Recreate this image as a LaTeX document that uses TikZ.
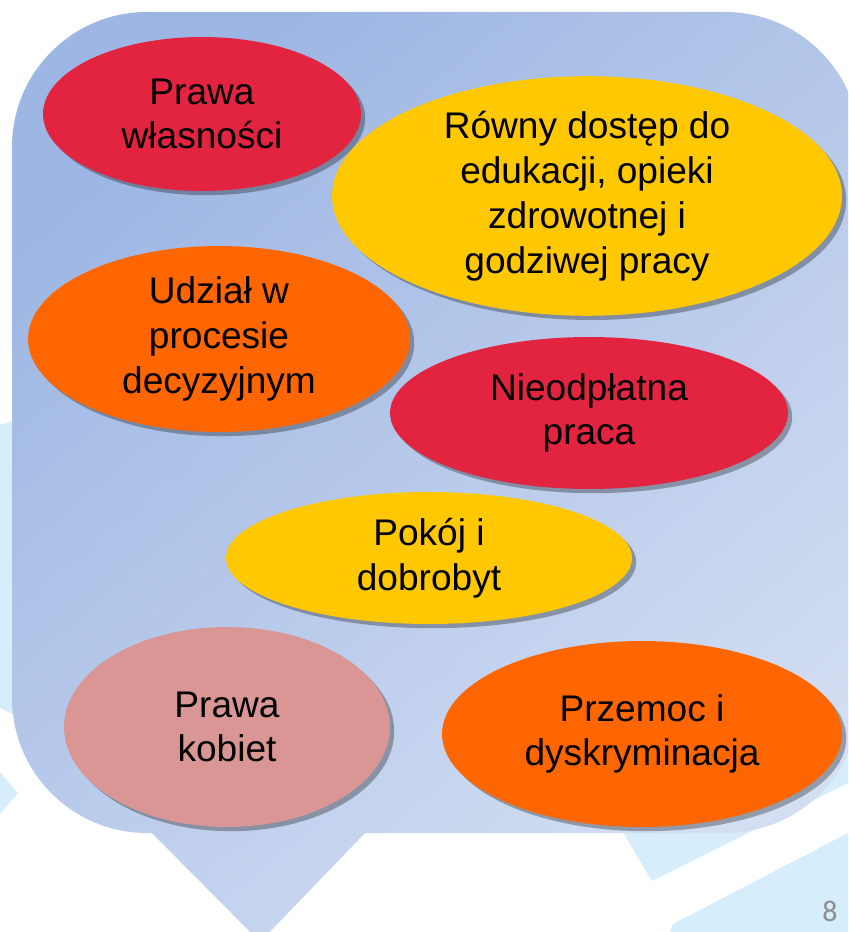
\documentclass[tikz,border=0pt]{standalone}
\usepackage{fontspec}
\setmainfont{Liberation Sans}
\newfontfamily\numfont{Carlito}
\usetikzlibrary{shapes.geometric, shadows}
\definecolor{kred}{HTML}{E32440}
\definecolor{kyellow}{HTML}{FFC800}
\definecolor{korange}{HTML}{FF6600}
\definecolor{kpink}{HTML}{D99694}
\definecolor{calltop}{HTML}{9DB6E3}
\definecolor{callbot}{HTML}{D3DEF2}
\definecolor{skybg}{HTML}{D6EEFB}
\definecolor{numgray}{HTML}{8C8C8C}
\tikzset{
  % elipsa z hasłem
  topic/.style={ellipse, inner sep=0pt, align=center, text=black,
    font=\fontsize{21.1}{25.5}\selectfont,
    drop shadow={shadow xshift=2.4pt, shadow yshift=-2.4pt, fill=black, opacity=0.3}},
  t red/.style={topic, fill=kred},
  t yellow/.style={topic, fill=kyellow},
  t orange/.style={topic, fill=korange},
  t pink/.style={topic, fill=kpink},
  % tło slajdu
  bgshape/.style={fill=skybg},
}

\begin{document}
\begin{tikzpicture}[x=0.02cm, y=-0.02cm]
  \useasboundingbox (0,0) rectangle (848,932);
  \clip (0,0) rectangle (848,932);
  % jasnoniebieskie pasy w tle
  \fill[bgshape] (0,425) -- (40,412) -- (40,728) -- (0,708) -- cycle;
  \fill[bgshape] (0,772) -- (18,793) -- (0,814) -- cycle;
  \fill[bgshape] (580,760) -- (652,881) -- (848,783) -- (848,700) -- cycle;
  \fill[bgshape] (670,932) -- (673,924) -- (848,833) -- (848,932) -- cycle;
  % dymek
  \shade[top color=calltop, bottom color=callbot, shading angle=40]
    (12,147) arc[start angle=180, end angle=270, radius=135] -- (725,12)
    arc[start angle=270, end angle=360, radius=135] -- (860,698)
    arc[start angle=0, end angle=90, radius=135] -- (365,833) -- (260,942)
    -- (152,833) -- (147,833)
    arc[start angle=90, end angle=180, radius=135] -- cycle;
  % hasła
  \node[t red, minimum width=6.36cm, minimum height=3.08cm] (prawa) at (202,114) {Prawa\\własności};
  \node[t yellow, minimum width=10.2cm, minimum height=4.16cm] (dostep) at (587,196) {Równy dostęp do\\edukacji, opieki\\zdrowotnej i\\godziwej pracy};
  \node[t orange, minimum width=7.64cm, minimum height=3.72cm] (udzial) at (219,339) {Udział w\\procesie\\decyzyjnym};
  \node[t red, minimum width=7.96cm, minimum height=3.04cm] (praca) at (589,413) {Nieodpłatna\\praca};
  \node[t yellow, minimum width=8.12cm, minimum height=2.64cm] (pokoj) at (429,558) {Pokój i\\dobrobyt};
  \node[t pink, minimum width=6.52cm, minimum height=4.0cm] (kobiety) at (227,727) {Prawa\\kobiet};
  \node[t orange, minimum width=8.0cm, minimum height=3.72cm] (przemoc) at (642,734) {Przemoc i\\dyskryminacja};
  % numer slajdu
  \node[inner sep=0pt, anchor=south, text=numgray, font=\numfont\fontsize{17}{20}\selectfont] (numer) at (830,922) {8};
\end{tikzpicture}
\end{document}
